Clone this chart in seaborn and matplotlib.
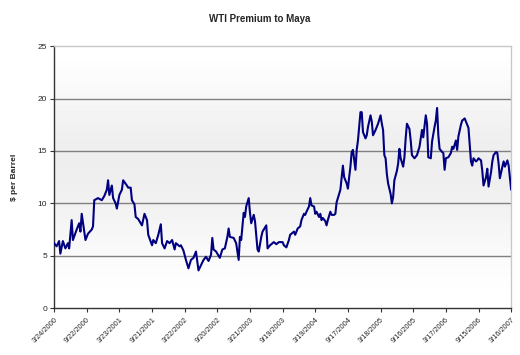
import numpy as np
import pandas as pd
import matplotlib
matplotlib.use('Agg')
import matplotlib.pyplot as plt
import seaborn as sns

# weekly WTI - Maya spread, weeks counted from 3/24/2000
weeks = [0, 2, 4, 5, 7, 9, 11, 12, 14, 15, 18, 20, 21, 22, 24, 25, 27, 30, 31, 32,
         35, 38, 40, 42, 43, 44, 46, 47, 49, 50, 52, 54, 55, 58, 59, 61, 62, 64, 65, 67,
         70, 72, 74, 75, 78, 79, 81, 83, 85, 86, 88, 90, 92, 94, 96, 97, 100, 101, 103, 105,
         107, 109, 111, 113, 115, 117, 119, 121, 123, 125, 126, 127, 129, 132, 134, 136, 138, 139, 140, 143,
         145, 147, 148, 149, 151, 152, 153, 155, 156, 157, 159, 160, 162, 163, 165, 166, 169, 170,
         172, 175, 177, 179, 182, 183, 185, 187, 188, 191, 192, 194, 196, 197, 199, 200, 201, 203, 204, 205,
         207, 208, 209, 211, 212, 213, 214, 216, 217, 218, 220, 221, 223, 224, 225, 227, 228, 229, 230, 231,
         233, 234, 235, 236, 237, 238, 240, 241, 242, 243, 244, 245, 246, 248, 249, 250, 252, 253, 254, 256,
         257, 258, 260, 261, 262, 263, 264, 265, 266, 268, 269, 270, 271, 273, 274, 275, 276, 278, 279, 280,
         281, 283, 284, 285, 287, 289, 291, 293, 294, 296, 297, 298, 300, 301, 303, 304, 305, 306, 307, 309,
         310, 311, 312, 314, 316, 317, 318, 320, 321, 322, 324, 325, 327, 329, 330, 332, 333, 334, 336, 337,
         338, 340, 341, 342, 344, 345, 346, 348, 349, 350, 352, 353, 354, 355, 357, 358, 359, 361, 362, 364]
premium = [6.2, 5.9, 6.4, 5.2, 6.4, 5.7, 6.2, 5.7, 8.4, 6.5, 7.5, 8.1, 7.3, 9.0, 7.3, 6.5, 7.1, 7.5, 7.8, 10.3,
           10.5, 10.3, 10.7, 11.3, 12.2, 10.8, 11.7, 10.5, 10.0, 9.5, 10.8, 11.3, 12.2, 11.7, 11.5, 11.5, 10.3, 9.9, 8.7, 8.5,
           7.9, 9.0, 8.4, 7.0, 6.0, 6.5, 6.2, 7.0, 8.0, 6.2, 5.7, 6.4, 6.2, 6.5, 5.6, 6.2, 5.9, 6.0, 5.5, 4.6,
           3.8, 4.6, 4.8, 5.4, 3.6, 4.1, 4.6, 4.9, 4.5, 5.1, 6.7, 5.6, 5.4, 4.8, 5.6, 5.7, 6.8, 7.6, 6.8, 6.7,
           6.2, 4.6, 6.8, 6.5, 9.1, 8.7, 9.7, 10.5, 9.1, 8.1, 8.9, 8.3, 5.6, 5.4, 6.8, 7.3, 7.9, 5.7,
           6.0, 6.3, 6.1, 6.3, 6.3, 6.0, 5.8, 6.5, 7.0, 7.3, 7.0, 7.6, 7.8, 8.4, 9.0, 8.9, 9.2, 9.7, 10.5, 9.8,
           9.7, 9.0, 9.2, 8.7, 9.0, 8.4, 8.6, 8.3, 7.9, 8.4, 9.2, 8.9, 8.9, 9.0, 10.1, 10.9, 11.3, 12.5, 13.6, 12.5,
           11.9, 11.4, 12.5, 13.5, 14.9, 15.1, 13.2, 15.1, 16.0, 17.3, 18.7, 18.7, 16.8, 16.2, 16.5, 17.3, 18.4, 17.8, 16.5, 17.0,
           17.3, 17.6, 18.4, 17.6, 17.0, 14.6, 14.3, 12.8, 11.9, 10.9, 10.0, 10.6, 12.2, 13.1, 13.8, 15.2, 14.3, 13.5, 14.4, 16.2,
           17.6, 17.1, 16.0, 14.6, 14.3, 14.6, 15.4, 17.0, 16.3, 18.4, 17.6, 14.4, 14.3, 15.9, 17.3, 17.9, 19.1, 16.5, 15.2, 14.9,
           14.8, 13.2, 14.3, 14.4, 14.8, 15.4, 15.2, 16.0, 15.1, 16.4, 17.5, 17.9, 18.1, 17.5, 17.2, 14.0, 13.6, 14.3, 14.0, 14.1,
           14.3, 14.1, 13.1, 11.7, 12.5, 13.3, 11.6, 13.0, 14.0, 14.6, 14.9, 14.8, 13.8, 12.4, 13.5, 14.0, 13.5, 14.1, 13.6, 11.3]

tick_weeks = [0, 26, 52, 78, 104, 130, 156, 182, 208, 234, 260, 286, 312, 338, 364]
tick_labels = ['3/24/2000', '9/22/2000', '3/23/2001', '9/21/2001', '3/22/2002', '9/20/2002',
               '3/21/2003', '9/19/2003', '3/19/2004', '9/17/2004', '3/18/2005', '9/16/2005',
               '3/17/2006', '9/15/2006', '3/16/2007']

df = pd.DataFrame({'week': weeks, 'premium': premium})

sns.set_style('white')
plt.rcParams['font.family'] = ['Liberation Sans', 'DejaVu Sans']

fig = plt.figure(figsize=(5.2, 3.55), dpi=100)
fig.patch.set_facecolor('white')
ax = fig.add_axes([0.104, 0.132, 0.879, 0.738])

# soft gray gradient behind the plot, like the old Excel chart
grad = np.array([1.0, 0.97, 0.94, 0.93, 0.94, 0.96, 0.985, 1.0]).reshape(-1, 1)
ax.imshow(grad, cmap='gray', vmin=0, vmax=1, aspect='auto', extent=[0, 1, 0, 1],
          transform=ax.transAxes, zorder=0, interpolation='bicubic')

for yv in [5, 10, 15, 20]:
    ax.axhline(yv, color='#808080', lw=1.0, zorder=1)

sns.lineplot(data=df, x='week', y='premium', ax=ax, color='#000080', lw=1.5, zorder=3)

ax.set_xlim(0, 364)
ax.set_ylim(0, 25)
ax.set_yticks([0, 5, 10, 15, 20, 25])
ax.set_xticks(tick_weeks)
ax.set_xticklabels(tick_labels, rotation=45, ha='right', rotation_mode='anchor', fontsize=5.3)
ax.tick_params(axis='y', labelsize=6, length=3, direction='out', left=True, color='#333333', pad=2)
ax.tick_params(axis='x', length=3, direction='out', bottom=True, color='#333333', pad=3)
ax.set_xlabel('')
ax.set_ylabel('$ per Barrel', fontsize=6, fontweight='bold', labelpad=14)

for s in ['left', 'bottom']:
    ax.spines[s].set_color('#333333')
    ax.spines[s].set_linewidth(1.0)
for s in ['top', 'right']:
    ax.spines[s].set_color('#c8c8c8')
    ax.spines[s].set_linewidth(1.0)

fig.text(0.5, 0.947, 'WTI Premium to Maya', ha='center', va='center', fontsize=7, fontweight='bold')

fig.savefig('out.png', dpi=100)
